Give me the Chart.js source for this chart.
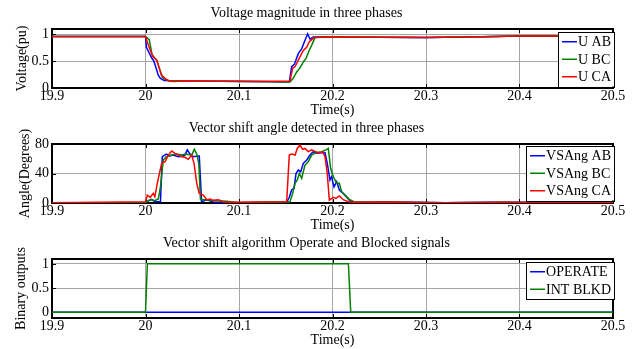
<!DOCTYPE html>
<html>
<head>
<meta charset="utf-8">
<script src="https://cdn.jsdelivr.net/npm/chart.js@4/dist/chart.umd.min.js"></script>
<style>
  body { margin: 0; background: #fff; }
  .panel { position: absolute; left: 0; width: 640px; height: 119px; }
</style>
</head>
<body>
<div class="panel" style="top:0px"><canvas id="volt" width="640" height="119"></canvas></div>
<div class="panel" style="top:115px"><canvas id="ang" width="640" height="119"></canvas></div>
<div class="panel" style="top:230px"><canvas id="bin" width="640" height="119"></canvas></div>
<script>
// tick values
const xTicks = [19.9, 20, 20.1, 20.2, 20.3, 20.4, 20.5];
const voltTicks = [0, 0.5, 1];
const angTicks = [0, 40, 80];
const binTicks = [0, 0.5, 1];

// voltage magnitude [time, pu]
const uAB = [[19.9,0.96],[20.0,0.96],[20.001,0.76],[20.007,0.55],[20.009,0.50],[20.0137,0.24],[20.016,0.18],[20.02,0.14],[20.04,0.13],[20.08,0.125],[20.12,0.12],[20.1538,0.11],[20.1563,0.40],[20.1592,0.44],[20.1634,0.64],[20.167,0.73],[20.1706,0.89],[20.1734,1.01],[20.176,0.91],[20.1795,0.95],[20.183,0.95],[20.2,0.95],[20.25,0.945],[20.3,0.94],[20.36,0.955],[20.4,0.97],[20.5,0.97]];
const uBC = [[19.9,0.96],[20.0,0.96],[20.004,0.90],[20.007,0.62],[20.012,0.52],[20.018,0.20],[20.021,0.16],[20.025,0.14],[20.04,0.13],[20.08,0.125],[20.12,0.12],[20.1545,0.11],[20.158,0.18],[20.1617,0.30],[20.165,0.37],[20.169,0.49],[20.1717,0.55],[20.175,0.70],[20.1778,0.80],[20.1813,0.94],[20.19,0.95],[20.25,0.945],[20.3,0.94],[20.36,0.955],[20.4,0.97],[20.5,0.97]];
const uCA = [[19.9,0.96],[20.0,0.96],[20.003,0.80],[20.008,0.58],[20.012,0.52],[20.017,0.24],[20.021,0.18],[20.025,0.13],[20.03,0.12],[20.04,0.13],[20.08,0.125],[20.12,0.12],[20.1545,0.13],[20.1574,0.37],[20.16,0.40],[20.1652,0.58],[20.1688,0.70],[20.1724,0.76],[20.175,0.86],[20.18,0.94],[20.2,0.95],[20.25,0.945],[20.3,0.94],[20.36,0.955],[20.4,0.97],[20.5,0.97]];

// vector shift angle [time, degrees]
const angAB = [[19.9,0.5],[20.0,0.8],[20.0066,5],[20.01,1.8],[20.016,2],[20.018,62.8],[20.0223,66.4],[20.026,63.7],[20.0295,65],[20.035,62.8],[20.0387,63.3],[20.0422,65],[20.0447,72],[20.0476,66.4],[20.051,62.8],[20.0548,63.5],[20.0575,63.7],[20.06,1.8],[20.0655,4.5],[20.0725,1.5],[20.09,0.5],[20.151,1],[20.1538,7.7],[20.1563,17.6],[20.1588,20],[20.161,40],[20.1634,44.7],[20.166,42.4],[20.1688,53.8],[20.1724,58.3],[20.1759,65],[20.1795,69.6],[20.183,67.4],[20.1884,68.2],[20.192,68.2],[20.1944,53.8],[20.1973,31.2],[20.199,35.7],[20.2016,22],[20.2045,29],[20.2073,17.6],[20.2115,13],[20.2152,7.7],[20.2187,3],[20.224,1],[20.26,1.5],[20.32,0.5],[20.38,1],[20.5,0.5]];
const angBC = [[19.9,0.5],[20.0,0.8],[20.003,3.6],[20.0066,4.5],[20.01,3],[20.0137,5.4],[20.016,22],[20.019,58.3],[20.0223,62.8],[20.028,65],[20.0334,66.4],[20.0387,65],[20.043,66.4],[20.0494,65],[20.0522,72.8],[20.0548,66.4],[20.057,53.8],[20.0588,4.5],[20.0635,4.5],[20.069,3.6],[20.075,3],[20.0815,2.7],[20.087,2.3],[20.1,0.5],[20.1545,1.8],[20.1574,13],[20.16,26.7],[20.1623,31.2],[20.1645,40],[20.167,33.5],[20.1706,51.5],[20.174,56],[20.1777,65],[20.1824,68.2],[20.1884,69.6],[20.193,72],[20.1955,74],[20.198,47],[20.2008,35.7],[20.2045,26.7],[20.2073,26.7],[20.2098,15.3],[20.2134,10.8],[20.218,5],[20.224,1],[20.26,1.5],[20.32,0.5],[20.38,1],[20.5,0.5]];
const angCA = [[19.9,0.5],[20.0,1.8],[20.002,10.8],[20.005,7.7],[20.0083,13],[20.01,8.6],[20.0126,26.7],[20.0173,53.8],[20.0209,56],[20.0244,65],[20.028,70.5],[20.0316,67.4],[20.0351,65],[20.0387,62.8],[20.0422,62],[20.0458,59.2],[20.0494,65],[20.0519,53.8],[20.0548,26.7],[20.0575,13],[20.0618,10.8],[20.0655,4.5],[20.069,5.4],[20.0725,3.6],[20.078,4.5],[20.083,1.8],[20.09,1],[20.151,1.8],[20.1538,65],[20.1563,66.4],[20.16,65],[20.1623,74],[20.1652,78.6],[20.168,72.8],[20.1706,74],[20.174,69.6],[20.1777,72],[20.1813,70],[20.1848,68.2],[20.1895,69],[20.192,62.8],[20.1944,40],[20.1966,4],[20.2008,7.7],[20.2037,6.3],[20.2073,9.5],[20.2115,4.5],[20.217,1.8],[20.224,1],[20.26,1.5],[20.32,0.5],[20.38,1],[20.5,0.5]];

// binary outputs [time, 0/1]
const operate = [[19.9,0],[20.5,0]];
const intBlkd = [[19.9,0],[20.0,0],[20.002,1],[20.217,1],[20.2195,0],[20.5,0]];

const serif = "'Liberation Serif', 'Times New Roman', serif";
const font14 = { family: serif, size: 14 };
const fmt = v => String(Math.round(v * 100) / 100);

// box, inward ticks and boxed legend like matlab
const matlabBox = {
  id: 'matlabBox',
  beforeDatasetsDraw(chart) {
    const { ctx, chartArea: ca, scales } = chart;
    ctx.save();
    ctx.strokeStyle = '#000';
    ctx.lineWidth = 1;
    ctx.beginPath();
    scales.x.ticks.forEach(t => {
      const px = Math.round(scales.x.getPixelForValue(t.value)) + 0.5;
      ctx.moveTo(px, ca.top); ctx.lineTo(px, ca.top + 4);
      ctx.moveTo(px, ca.bottom); ctx.lineTo(px, ca.bottom - 4);
    });
    scales.y.ticks.forEach(t => {
      const py = Math.round(scales.y.getPixelForValue(t.value)) + 0.5;
      ctx.moveTo(ca.left, py); ctx.lineTo(ca.left + 4, py);
      ctx.moveTo(ca.right, py); ctx.lineTo(ca.right - 4, py);
    });
    ctx.stroke();
    ctx.lineWidth = 2;
    ctx.strokeRect(ca.left, ca.top, ca.right - ca.left, ca.bottom - ca.top);
    ctx.restore();
  },
  afterDraw(chart, args, opts) {
    const { ctx, chartArea: ca } = chart;
    const sets = chart.data.datasets;
    ctx.save();
    ctx.font = '14px ' + serif;
    const tw = Math.max(...sets.map(d => ctx.measureText(d.label).width));
    const w = 20 + tw + 3;
    const rowH = 17.5;
    const h = rowH * sets.length + 2;
    const right = ca.right + 1;
    const left = right - w;
    const top = ca.top + opts.top;
    ctx.fillStyle = '#fff';
    ctx.fillRect(left, top, w, h);
    ctx.strokeStyle = '#000';
    ctx.lineWidth = 1;
    ctx.strokeRect(Math.round(left) + 0.5, Math.round(top) + 0.5, Math.round(w), Math.round(h));
    ctx.textBaseline = 'middle';
    sets.forEach((d, i) => {
      const cy = top + 1 + rowH * i + rowH / 2;
      ctx.strokeStyle = d.borderColor;
      ctx.lineWidth = 1.5;
      ctx.beginPath();
      ctx.moveTo(left + 4, cy); ctx.lineTo(left + 19, cy);
      ctx.stroke();
      ctx.fillStyle = '#000';
      ctx.fillText(d.label, left + 20, cy + 1);
    });
    ctx.restore();
  }
};

function makeChart(id, title, yTitle, yTitlePad, series, yMin, yMax, yTicks, legendTop) {
  return new Chart(document.getElementById(id), {
    type: 'line',
    data: {
      datasets: series.map((s, i) => ({
        label: s.label,
        data: s.data.map(p => ({ x: p[0], y: p[1] })),
        borderColor: s.color,
        borderWidth: 1.5,
        pointRadius: 0,
        tension: 0,
        fill: false,
        order: series.length - i
      }))
    },
    options: {
      responsive: false,
      animation: false,
      events: [],
      layout: { padding: { left: 0, right: 27, top: 0, bottom: 0 } },
      plugins: {
        legend: { display: false },
        tooltip: { enabled: false },
        title: {
          display: true, text: title, color: '#000',
          font: { family: serif, size: 14, weight: 'normal' },
          padding: { top: 5, bottom: 7.2 }
        },
        matlabBox: { top: legendTop }
      },
      scales: {
        x: {
          type: 'linear', min: 19.9, max: 20.5,
          afterBuildTicks: s => { s.ticks = xTicks.map(v => ({ value: v })); },
          afterFit: s => { s.height = 31; },
          ticks: { padding: 0, color: '#000', font: font14, callback: fmt, autoSkip: false, maxRotation: 0 },
          grid: { color: '#a6a6a6', drawTicks: false },
          border: { display: false },
          title: { display: true, text: 'Time(s)', color: '#000', font: font14, padding: 0 }
        },
        y: {
          min: yMin, max: yMax,
          afterBuildTicks: s => { s.ticks = yTicks.map(v => ({ value: v })); },
          afterFit: s => { s.width = 52; },
          ticks: { padding: 3, color: '#000', font: font14, callback: fmt },
          grid: { color: '#a6a6a6', drawTicks: false },
          border: { display: false },
          title: { display: true, text: yTitle, color: '#000', font: font14, padding: { top: yTitlePad, bottom: 0 } }
        }
      }
    },
    plugins: [matlabBox]
  });
}

makeChart('volt', 'Voltage magnitude in three phases', 'Voltage(pu)', 13.5, [
  { label: 'U AB', data: uAB, color: '#0000ff' },
  { label: 'U BC', data: uBC, color: '#008000' },
  { label: 'U CA', data: uCA, color: '#ff0000' }
], 0, 1.1, voltTicks, 3);

makeChart('ang', 'Vector shift angle detected in three phases', 'Angle(Degrees)', 16.5, [
  { label: 'VSAng AB', data: angAB, color: '#0000ff' },
  { label: 'VSAng BC', data: angBC, color: '#008000' },
  { label: 'VSAng CA', data: angCA, color: '#ff0000' }
], 0, 80, angTicks, 2);

makeChart('bin', 'Vector shift algorithm Operate and Blocked signals', 'Binary outputs', 13, [
  { label: 'OPERATE', data: operate, color: '#0000ff' },
  { label: 'INT BLKD', data: intBlkd, color: '#008000' }
], -0.12, 1.1, binTicks, 3);
</script>
</body>
</html>
